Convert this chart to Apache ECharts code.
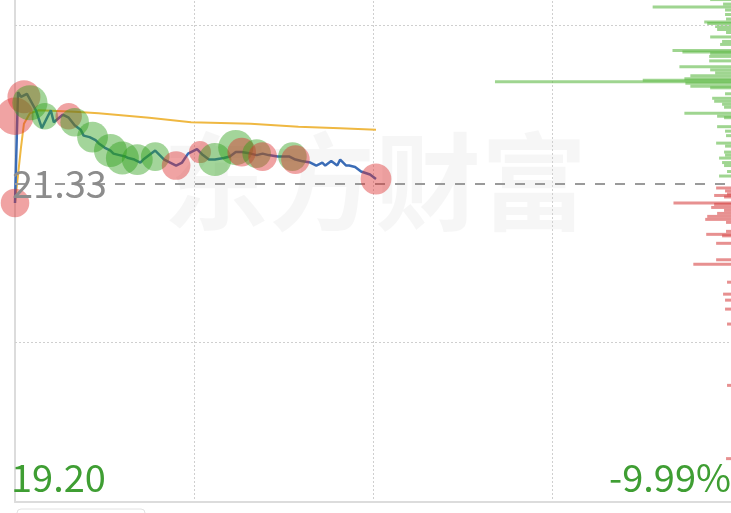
<!DOCTYPE html>
<html>
<head>
<meta charset="utf-8">
<script src="https://cdn.jsdelivr.net/npm/echarts@6/dist/echarts.min.js"></script>
<style>
html,body{margin:0;padding:0;background:#fff;overflow:hidden;width:731px;height:513px;}
#wrap{position:relative;width:731px;height:513px;overflow:hidden;}
#c{position:absolute;left:0;top:-135px;width:731px;height:648px;}
</style>
</head>
<body>
<div id="wrap"><div id="c"></div></div>
<script>
// ---- data ----
var prevClose = 21.33;
var priceMin = 19.20;
var priceMax = 23.46;
var lowLabel = '19.20';
var lowPctLabel = '-9.99%';
var watermark = '东方财富';

// intraday price line: minute index (0 = 9:30) and price
var priceMinutes = [0,1,2,4,7,9,12,13,16,18,20,22,23,25,27,28,30,32,33,35,37,38,40,42,43,45,47,48,50,52,54,56,58,61,63,65,67,70,72,74,76,79,81,83,85,88,90,92,94,96,99,101,103,104,106,108,109,111,112,114,116,119,121];
var priceValues  = [21.20,21.94,21.91,21.93,21.82,21.70,21.82,21.74,21.79,21.77,21.72,21.69,21.65,21.64,21.62,21.60,21.57,21.55,21.53,21.52,21.51,21.50,21.49,21.47,21.49,21.52,21.55,21.53,21.49,21.47,21.45,21.47,21.53,21.56,21.52,21.49,21.49,21.50,21.51,21.54,21.54,21.53,21.52,21.53,21.52,21.51,21.51,21.51,21.49,21.48,21.47,21.45,21.47,21.45,21.48,21.45,21.49,21.45,21.45,21.44,21.41,21.39,21.36];

// average price line
var avgMinutes = [0,2,3,5,8,20,28,45,59,79,95,109,121];
var avgValues  = [21.20,21.57,21.73,21.80,21.82,21.81,21.80,21.77,21.74,21.73,21.71,21.70,21.69];

// big-trade bubbles: minute, price, volume, side (1 = buy/red, -1 = sell/green)
var bubbleMinutes = [0,0,3,5,10,18,20,26,32,36,41,47,54,62,67,74,76,81,83,93,94,121];
var bubblePrices  = [21.20,21.78,21.91,21.87,21.78,21.78,21.74,21.64,21.55,21.50,21.49,21.51,21.45,21.54,21.49,21.57,21.54,21.53,21.51,21.51,21.49,21.36];
var bubbleVolumes = [1690,2890,2250,2560,1440,1440,1690,1960,2250,2250,1960,1690,1690,1000,2250,2560,1690,1690,1690,1690,1690,1960];
var bubbleSides   = [1,1,1,-1,-1,1,-1,-1,-1,-1,-1,-1,1,1,-1,-1,1,-1,1,-1,1,1];

// volume-at-price profile (right side)
var profileUpPrices = [22.56,22.53,22.51,22.49,22.46,22.43,22.41,22.40,22.38,22.36,22.34,22.31,22.28,22.26,22.22,22.21,22.20,22.18,22.15,22.11,22.09,22.07,22.05,22.03,22.02,22.01,22.00,21.98,21.97,21.93,21.90,21.88,21.86,21.84,21.80,21.78,21.77,21.71,21.68,21.65,21.60,21.58,21.54,21.52,21.50,21.47,21.45,21.41,21.38];
var profileUpVolumes = [21,8,79,6,6,5,27,24,16,14,5,21,9,11,59,49,21,22,22,52,21,16,41,47,89,238,46,41,21,6,19,17,9,7,47,14,7,14,6,5,15,6,7,6,12,9,7,4,12];
var profileDownPrices = [21.30,21.28,21.26,21.25,21.24,21.20,21.19,21.17,21.15,21.13,21.11,21.09,21.07,21.01,20.99,20.98,20.93,20.82,20.79,20.67,20.59,20.55,20.49,20.39,19.98,19.49];
var profileDownVolumes = [15,6,4,17,7,58,17,20,7,14,24,26,5,5,25,9,15,15,38,4,8,6,6,4,4,5];

// ---- build ----
var OFF = 135; // the chart canvas starts 135px above the visible window
function pairs(a, b){ var r=[]; for (var i=0;i<a.length;i++) r.push([a[i], b[i]]); return r; }
var bubbleData = [];
for (var i=0;i<bubbleMinutes.length;i++) bubbleData.push([bubbleMinutes[i], bubblePrices[i], bubbleVolumes[i], bubbleSides[i]]);
var profileData = [];
for (var j=0;j<profileUpPrices.length;j++) profileData.push([profileUpVolumes[j], profileUpPrices[j], -1]);
for (var k=0;k<profileDownPrices.length;k++) profileData.push([profileDownVolumes[k], profileDownPrices[k], 1]);

var GREEN_TXT = '#3f9e33';
var upper = +(prevClose + (priceMax - prevClose) / 2).toFixed(3);
var lower = +(prevClose - (prevClose - priceMin) / 2).toFixed(3);

var chart = echarts.init(document.getElementById('c'), null, {renderer:'canvas'});
chart.setOption({
  animation:false,
  backgroundColor:'#fff',
  grid:[
    {left:15, right:-2, top:0, bottom:11},
    {left:493, right:-2, top:0, bottom:11}
  ],
  xAxis:[
    {type:'value', gridIndex:0, min:0, max:240, interval:60,
     axisLine:{show:true, onZero:false, lineStyle:{color:'#dcdcdc', width:2}},
     axisTick:{show:false}, axisLabel:{show:false},
     splitLine:{show:true, showMinLine:false, showMaxLine:false, lineStyle:{color:'#cfcfcf', width:1, type:[2,2]}}},
    {type:'value', gridIndex:1, min:0, max:240, inverse:true, show:false}
  ],
  yAxis:[
    {type:'value', gridIndex:0, min:priceMin, max:priceMax, offset:3,
     axisLine:{show:true, lineStyle:{color:'#dcdcdc', width:2}},
     axisTick:{show:false}, axisLabel:{show:false}, splitLine:{show:false}},
    {type:'value', gridIndex:1, min:priceMin, max:priceMax, show:false}
  ],
  graphic:[
    {type:'text', z:-10, silent:true, style:{x:375, y:182+OFF, text:watermark, textAlign:'center', textVerticalAlign:'middle',
      font:'bold 106px "Noto Sans CJK SC"', fill:'rgba(0,0,0,0.035)'}},
    {type:'text', z:100, style:{x:12, y:184+OFF, text:prevClose.toFixed(2), textVerticalAlign:'middle',
      font:'38px "Noto Sans CJK SC"', fill:'#8c8c8c'}},
    {type:'text', z:100, style:{x:11, y:478+OFF, text:lowLabel, textVerticalAlign:'middle',
      font:'38px "Noto Sans CJK SC"', fill:GREEN_TXT}},
    {type:'text', z:100, style:{x:731, y:478+OFF, text:lowPctLabel, textAlign:'right', textVerticalAlign:'middle',
      font:'38px "Noto Sans CJK SC"', fill:GREEN_TXT}},
    {type:'rect', z:100, shape:{x:17, y:509+OFF, width:128, height:20, r:4}, style:{fill:'#fff', stroke:'#e2e2e2', lineWidth:1}}
  ],
  series:[
    {type:'custom', xAxisIndex:1, yAxisIndex:1, z:1, data:profileData,
     renderItem:function(params, api){
       var v = api.value(0), p = api.value(1), side = api.value(2);
       var a = api.coord([v, p]);
       var b = api.coord([0, p]);
       return {type:'rect', shape:{x:a[0], y:a[1]-1.5, width:b[0]-a[0], height:3},
         style:{fill: side > 0 ? 'rgba(215,70,70,0.6)' : 'rgba(95,185,70,0.6)'}};
     }},
    {type:'line', name:'avg', xAxisIndex:0, yAxisIndex:0, z:3, data:pairs(avgMinutes, avgValues),
     showSymbol:false, symbol:'none', lineStyle:{color:'#efb842', width:2}},
    {type:'line', name:'price', xAxisIndex:0, yAxisIndex:0, z:4, data:pairs(priceMinutes, priceValues),
     showSymbol:false, symbol:'none', lineStyle:{color:'#3b6cb6', width:2.5},
     markLine:{silent:true, symbol:'none', label:{show:false}, animation:false,
       data:[
         {yAxis:prevClose, lineStyle:{color:'#9a9a9a', width:2, type:[10,10]}},
         {yAxis:upper, lineStyle:{color:'#cfcfcf', width:1, type:[2,2]}},
         {yAxis:lower, lineStyle:{color:'#cfcfcf', width:1, type:[2,2]}}
       ]}},
    {type:'scatter', xAxisIndex:0, yAxisIndex:0, z:5, data:bubbleData,
     symbolSize:function(d){ return 2.2*Math.sqrt(d[2]/10); },
     itemStyle:{color:function(p){ return p.data[3] > 0 ? 'rgba(220,45,45,0.55)' : 'rgba(45,160,25,0.55)'; }}}
  ]
});
</script>
</body>
</html>
